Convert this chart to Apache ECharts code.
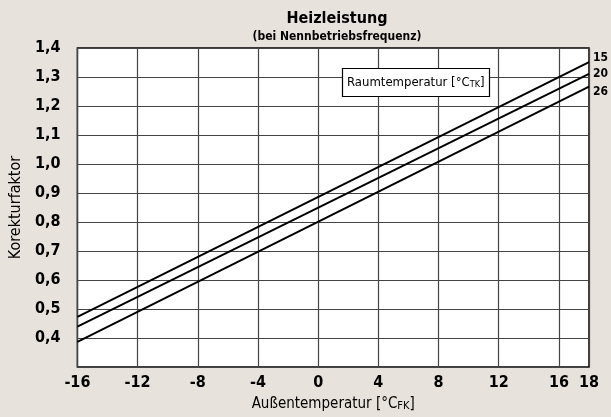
<!DOCTYPE html>
<html>
<head>
<meta charset="utf-8">
<script src="https://cdn.jsdelivr.net/npm/echarts@6/dist/echarts.min.js"></script>
<style>
html,body{margin:0;padding:0;background:#e8e2dc;}
#chart{width:611px;height:417px;}
</style>
</head>
<body>
<div id="chart"></div>
<script>
// Außentemperatur (x) und Korrekturfaktor je Raumtemperatur
const xTemps = [-16, 18];
const serie15 = [0.473, 1.351];
const serie20 = [0.439, 1.311];
const serie26 = [0.387, 1.267];
const raumTemps = ['15', '20', '26'];

const FONT = '"DejaVu Sans Condensed", "Liberation Sans Narrow", sans-serif';

function pairs(ys) {
	return xTemps.map((x, i) => [x, ys[i]]);
}

let myChart = echarts.init(document.getElementById('chart'));

const lineSeries = [serie15, serie20, serie26].map((ys, i) => ({
	name: raumTemps[i],
	type: 'line',
	data: pairs(ys),
	symbol: 'none',
	lineStyle: { color: '#000', width: 2 },
	endLabel: {
		show: true,
		formatter: '{a}',
		color: '#000',
		fontFamily: FONT,
		fontWeight: 'bold',
		fontSize: 12,
		distance: 4,
		offset: [0, [-4, 0, 5][i]]
	},
	emphasis: { disabled: true },
	silent: true
}));

myChart.setOption({
	backgroundColor: '#e8e2dc',
	animation: false,
	title: [{
		text: 'Heizleistung',
		subtext: '(bei Nennbetriebsfrequenz)',
		left: 332, top: 6, textAlign: 'center',
		itemGap: 4,
		textStyle: { fontFamily: FONT, fontWeight: 'bold', fontSize: 16, color: '#000' },
		subtextStyle: { fontFamily: FONT, fontWeight: 'bold', fontSize: 12, color: '#000' }
	}, {
		text: 'Raumtemperatur [°C{s|TK}]',
		left: 342, top: 68,
		padding: [8, 5, 8, 5],
		backgroundColor: '#fff',
		borderColor: '#000',
		borderWidth: 1.2,
		textStyle: {
			fontFamily: FONT, fontWeight: 'normal', fontSize: 13, color: '#000',
			rich: { s: { fontFamily: FONT, fontSize: 9, color: '#000', padding: [4, 0, 0, 0] } }
		}
	}],
	grid: {
		left: 75, right: 22, top: 48, bottom: 50,
		show: true, backgroundColor: '#fff', borderColor: '#000', borderWidth: 1.5
	},
	xAxis: {
		type: 'value', min: -16, max: 18, interval: 4,
		name: 'Außentemperatur [°C{s|FK}]',
		nameLocation: 'middle', nameGap: 30,
		nameTextStyle: {
			fontFamily: FONT, fontSize: 15, color: '#000',
			rich: { s: { fontFamily: FONT, fontSize: 11, color: '#000', padding: [4, 0, 0, 0] } }
		},
		axisLine: { show: false },
		axisTick: { show: false },
		axisLabel: { fontFamily: FONT, fontWeight: 'bold', fontSize: 16, color: '#000', margin: 8 },
		splitLine: { lineStyle: { color: '#444', width: 1.2 } }
	},
	yAxis: {
		type: 'value', min: 0.3, max: 1.4, interval: 0.1,
		name: 'Korekturfaktor',
		nameLocation: 'middle', nameGap: 53,
		nameTextStyle: { fontFamily: FONT, fontSize: 16, color: '#000' },
		axisLine: { show: false },
		axisTick: { show: false },
		axisLabel: {
			fontFamily: FONT, fontWeight: 'bold', fontSize: 16, color: '#000', margin: 17,
			padding: [6, 0, 0, 0],
			formatter: v => v < 0.35 ? '' : v.toFixed(1).replace('.', ',')
		},
		splitLine: { lineStyle: { color: '#444', width: 1.2 } }
	},
	series: lineSeries
});
</script>
</body>
</html>
